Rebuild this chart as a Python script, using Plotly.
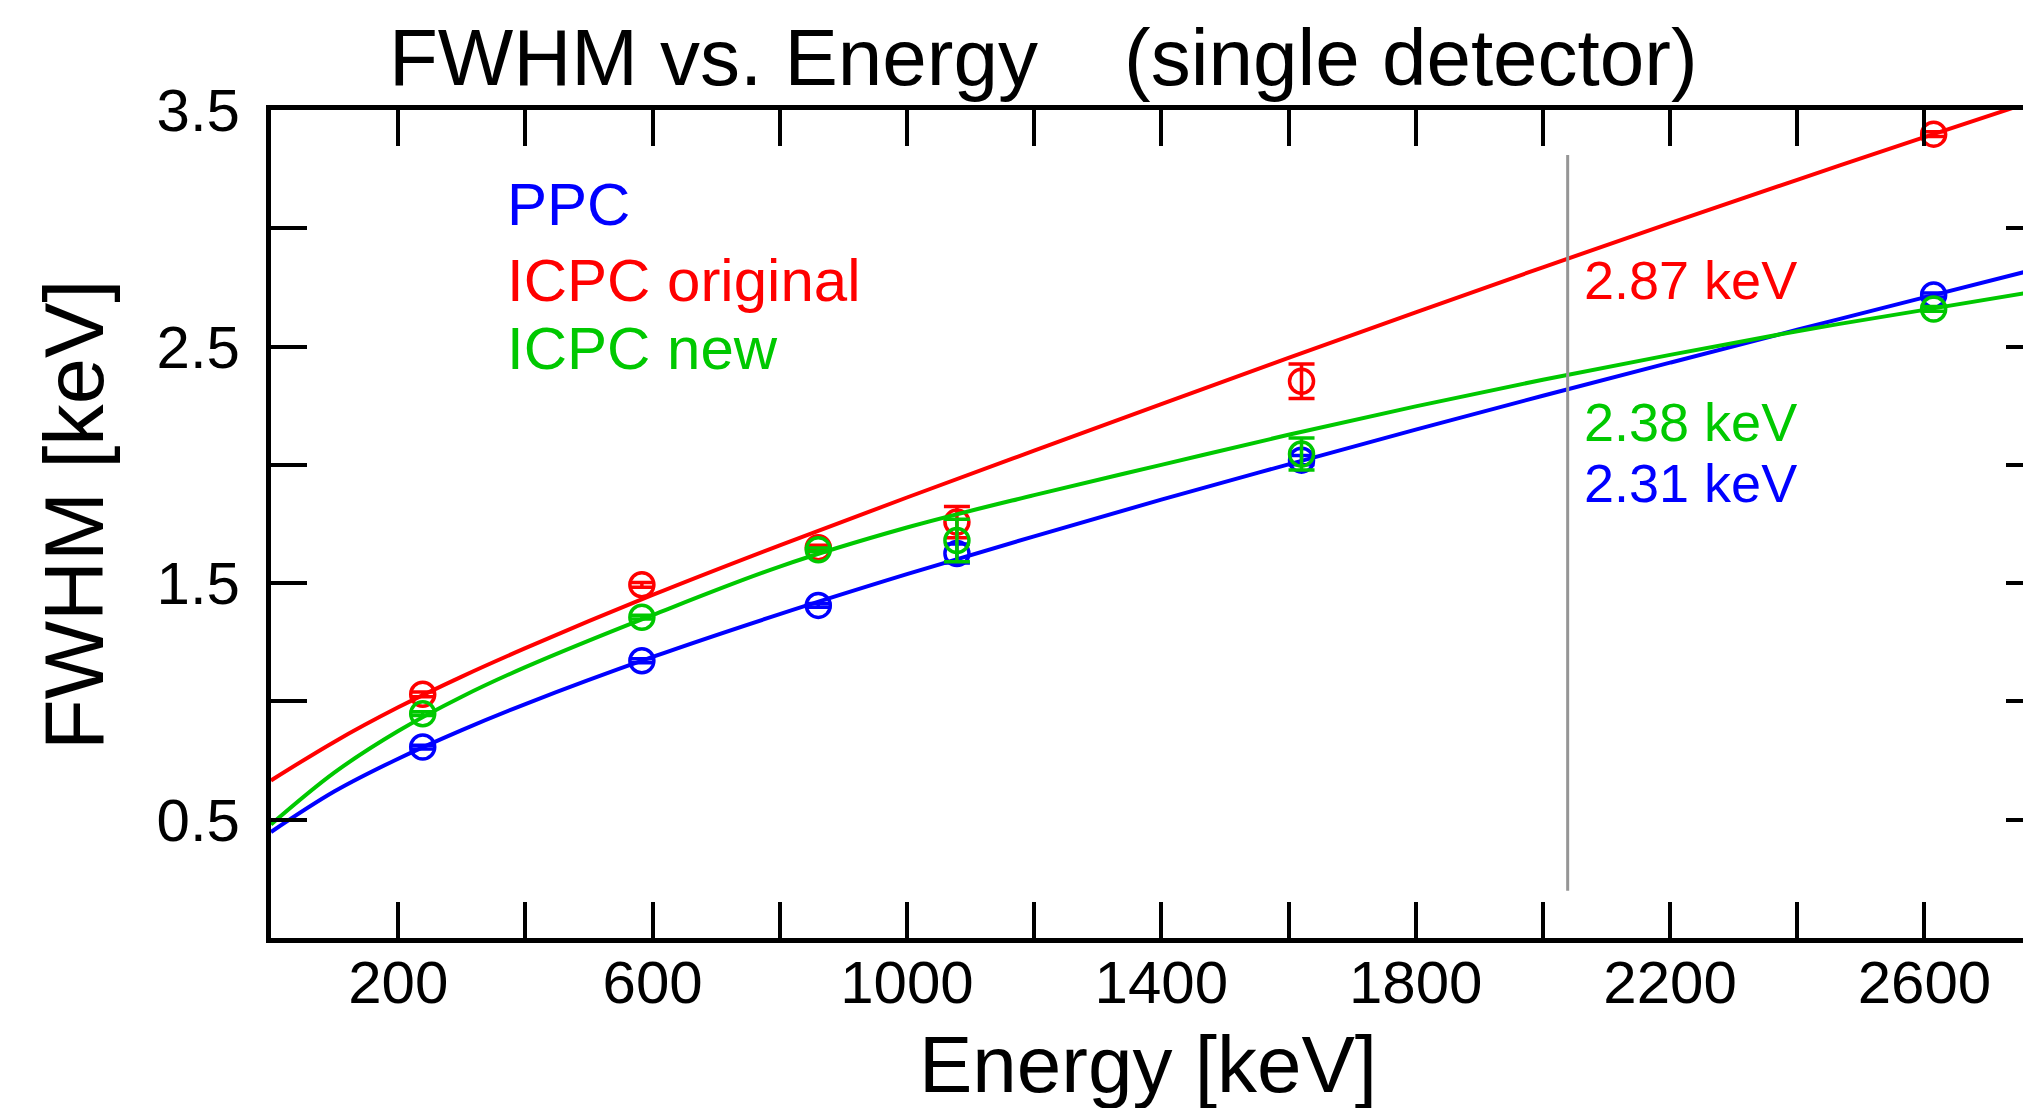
import plotly.graph_objects as go

# ---------------- data ----------------
energy_pts = [238.6, 583.2, 860.6, 1078.6, 1620.5, 2614.5]

ppc_fwhm = [0.807, 1.172, 1.406, 1.625, 2.020, 2.718]
ppc_err = [0.008, 0.008, 0.008, 0.040, 0.020, 0.008]

icpc_orig_fwhm = [1.030, 1.493, 1.650, 1.758, 2.353, 3.398]
icpc_orig_err = [0.010, 0.010, 0.010, 0.066, 0.073, 0.010]

icpc_new_fwhm = [0.948, 1.356, 1.641, 1.680, 2.046, 2.659]
icpc_new_err = [0.008, 0.008, 0.008, 0.090, 0.068, 0.010]

curve_energy = [0, 100, 200, 300, 400, 600, 800, 1000, 1200, 1400,
                1600, 1800, 2000, 2200, 2400, 2600, 2757]
ppc_curve = [0.448, 0.62, 0.758, 0.879, 0.989, 1.188, 1.369, 1.538, 1.698,
             1.853, 2.002, 2.149, 2.292, 2.432, 2.571, 2.708, 2.815]
icpc_orig_curve = [0.666, 0.83, 0.975, 1.105, 1.225, 1.45, 1.66, 1.862, 2.06,
                   2.257, 2.452, 2.645, 2.835, 3.022, 3.205, 3.385, 3.525]
icpc_new_curve = [0.48, 0.70, 0.875, 1.02, 1.145, 1.365, 1.57, 1.735, 1.872,
                  2.0, 2.127, 2.247, 2.36, 2.465, 2.565, 2.655, 2.725]

qbb_energy = [2039, 2039]
qbb_span = [0.2, 3.31]

series_names = ["PPC", "ICPC original", "ICPC new"]
qbb_labels = ["2.87 keV", "2.38 keV", "2.31 keV"]

x_tickvals = [200, 400, 600, 800, 1000, 1200, 1400, 1600, 1800, 2000, 2200, 2400, 2600]
x_ticktext = ["200", "", "600", "", "1000", "", "1400", "", "1800", "", "2200", "", "2600"]
y_tickvals = [0.5, 1.0, 1.5, 2.0, 2.5, 3.0, 3.5]
y_ticktext = ["0.5", "", "1.5", "", "2.5", "", "3.5"]

# ---------------- styling ----------------
BLUE = "rgb(0,0,255)"
RED = "rgb(255,0,0)"
GREEN = "rgb(0,200,0)"
FONT = "Liberation Sans, Arial, Helvetica, sans-serif"

W, H = 2023, 1108
L, R, T, B = 271, 0, 110, 170
X_RANGE = [0, 2755]
Y_RANGE = [0, 3.5]

fig = go.Figure()

# vertical Qbb line (on y2 so that the right-hand tick axis is rendered)
fig.add_trace(go.Scatter(x=qbb_energy, y=qbb_span, mode="lines",
                         line=dict(color="rgb(150,150,150)", width=3),
                         yaxis="y2", showlegend=False, hoverinfo="skip"))

for curve, pts, err, col in [(ppc_curve, ppc_fwhm, ppc_err, BLUE),
                             (icpc_orig_curve, icpc_orig_fwhm, icpc_orig_err, RED),
                             (icpc_new_curve, icpc_new_fwhm, icpc_new_err, GREEN)]:
    fig.add_trace(go.Scatter(x=curve_energy, y=curve, mode="lines",
                             line=dict(color=col, width=4, shape="spline", smoothing=1),
                             showlegend=False))
    fig.add_trace(go.Scatter(x=energy_pts, y=pts, mode="markers",
                             marker=dict(symbol="circle-open", size=24,
                                         color=col, line=dict(color=col, width=3.5)),
                             error_y=dict(type="data", array=err, color=col,
                                          thickness=3.5, width=13),
                             showlegend=False))

axis_common = dict(showgrid=False, zeroline=False, ticks="inside",
                   tickwidth=3.5, ticklen=36, tickcolor="black",
                   tickfont=dict(family=FONT, size=60, color="black"))

fig.update_layout(
    width=W, height=H,
    margin=dict(l=L, r=R, t=T, b=B, pad=0),
    paper_bgcolor="white", plot_bgcolor="white",
    font=dict(family=FONT, color="black"),
    showlegend=False,
    xaxis=dict(range=X_RANGE, tickmode="array", tickvals=x_tickvals,
               ticktext=x_ticktext, showline=True, linecolor="black",
               linewidth=5, mirror="ticks", ticklabelstandoff=-12,
               **axis_common),
    yaxis=dict(range=Y_RANGE, tickmode="array", tickvals=y_tickvals,
               ticktext=y_ticktext, showline=True, linecolor="black",
               linewidth=5, mirror=False, ticklabelstandoff=14,
               **axis_common),
    yaxis2=dict(range=Y_RANGE, overlaying="y", side="right",
                tickmode="array", tickvals=y_tickvals, showticklabels=False,
                showline=False, showgrid=False, zeroline=False,
                ticks="inside", ticklen=17, tickwidth=3.5, tickcolor="black"),
)

def px_x(px):
    return (px - L) / (W - L - R)

def px_y(py):
    return (H - B - py) / (H - T - B)

annotations = []
# title
annotations.append(dict(text="FWHM vs. Energy", x=px_x(387), y=px_y(58),
                        xref="paper", yref="paper", xanchor="left", yanchor="middle",
                        showarrow=False, font=dict(family=FONT, size=80, color="black")))
annotations.append(dict(text="(single detector)", x=px_x(1122), y=px_y(58),
                        xref="paper", yref="paper", xanchor="left", yanchor="middle",
                        showarrow=False, font=dict(family=FONT, size=80, color="black")))
# axis titles
annotations.append(dict(text="Energy [keV]", x=px_x(1148), y=px_y(1064),
                        xref="paper", yref="paper", xanchor="center", yanchor="middle",
                        showarrow=False, font=dict(family=FONT, size=80, color="black")))
annotations.append(dict(text="FWHM [keV]", x=px_x(74), y=px_y(515), textangle=-90,
                        xref="paper", yref="paper", xanchor="center", yanchor="middle",
                        showarrow=False, font=dict(family=FONT, size=83, color="black")))
# legend text
for name, col, cy in zip(series_names, [BLUE, RED, GREEN], [205, 280, 348]):
    annotations.append(dict(text=name, x=px_x(505), y=px_y(cy), xref="paper", yref="paper",
                            xanchor="left", yanchor="middle", showarrow=False,
                            font=dict(family=FONT, size=60, color=col)))
# Qbb values
for lab, col, cy in zip(qbb_labels, [RED, GREEN, BLUE], [280, 422, 483]):
    annotations.append(dict(text=lab, x=px_x(1582), y=px_y(cy), xref="paper", yref="paper",
                            xanchor="left", yanchor="middle", showarrow=False,
                            font=dict(family=FONT, size=54, color=col)))

fig.update_layout(annotations=annotations)

fig.write_html("out.html",
               config={"displayModeBar": False},
               post_script="document.body.style.margin='0';"
                           "document.body.style.overflow='hidden';")
